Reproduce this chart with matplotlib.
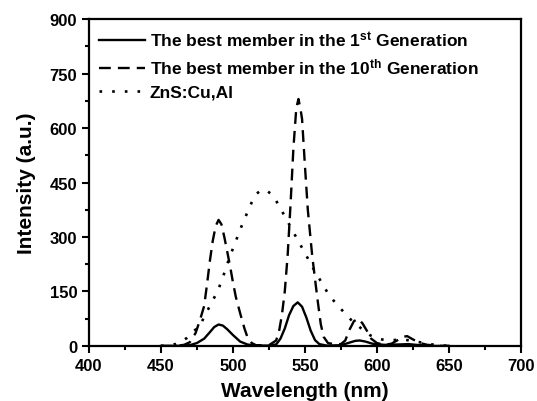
import matplotlib.pyplot as plt
from matplotlib.ticker import MultipleLocator

plt.rcParams['font.family'] = ['Liberation Sans', 'DejaVu Sans']
plt.rcParams['font.weight'] = 'bold'
plt.rcParams['mathtext.fontset'] = 'custom'
plt.rcParams['mathtext.bf'] = 'Liberation Sans:bold'
plt.rcParams['mathtext.rm'] = 'Liberation Sans:bold'
plt.rcParams['mathtext.default'] = 'bf'

# best member, 1st generation
wl_1st = [450, 460, 470, 475, 480, 484, 487, 490, 493, 496, 500, 505, 510, 515,
          525, 530, 533, 536, 539, 542, 545, 548, 551, 554, 557, 560, 565, 575,
          580, 585, 588, 592, 597, 605, 615, 622, 630, 640, 650]
int_1st = [0, 0, 2, 8, 20, 38, 52, 59, 56, 46, 30, 12, 4, 1,
           1, 4, 20, 48, 85, 110, 120, 108, 78, 42, 16, 5, 1, 2,
           8, 14, 15, 12, 6, 3, 4, 5, 2, 0, 0]

# best member, 10th generation
wl_10th = [450, 460, 466, 470, 474, 477, 480, 482, 484, 486, 488, 490, 492, 494,
           496, 498, 500, 502, 505, 508, 510, 513, 516, 525, 530, 532, 534, 536,
           538, 540, 542, 544, 545.5, 547, 548, 550, 552, 555, 557, 559, 561, 563,
           566, 570, 575, 578, 581, 584, 587, 590, 593, 596, 600, 605, 610, 614,
           618, 621, 625, 630, 635, 645, 650]
int_10th = [0, 0, 3, 10, 35, 70, 110, 170, 235, 290, 330, 347, 335, 300,
            260, 220, 175, 135, 90, 48, 25, 8, 2, 2, 15, 40, 85, 150,
            250, 390, 545, 655, 680, 650, 625, 496, 375, 250, 184, 120, 60, 25,
            8, 5, 5, 15, 45, 68, 75, 62, 42, 20, 8, 3, 6, 15,
            25, 27, 18, 8, 3, 0, 0]

# ZnS:Cu,Al reference
wl_zns = [450, 455, 460, 465, 468, 472, 477, 481, 486, 490, 493, 496, 499, 502.5,
          506, 509.5, 513, 516, 520, 524, 528, 532.5, 537, 542, 546.5, 552, 556,
          561.5, 567, 574, 582, 590, 595, 600, 608, 618, 630, 640, 650]
int_zns = [0, 2, 5, 14, 22, 38, 55, 88, 125, 157, 189, 225, 258, 294,
           330, 363, 395, 418, 430, 426, 414, 382, 350, 313, 281, 241, 212,
           175, 138, 106, 72, 45, 30, 20, 15, 18, 10, 3, 0]

fig = plt.figure(figsize=(5.37, 4.02), dpi=100)
ax = fig.add_axes([0.1657, 0.137, 0.8043, 0.813])

ax.plot(wl_1st, int_1st, color='black', lw=1.7, linestyle='-',
        label=r'The best member in the 1$^{st}$ Generation')
ax.plot(wl_10th, int_10th, color='black', lw=1.7, linestyle=(0, (5, 3)),
        label=r'The best member in the 10$^{th}$ Generation')
ax.plot(wl_zns, int_zns, color='black', lw=1.9, linestyle=(0, (1, 3.8)),
        label='ZnS:Cu,Al')

ax.set_xlim(400, 700)
ax.set_ylim(0, 900)
ax.xaxis.set_major_locator(MultipleLocator(50))
ax.xaxis.set_minor_locator(MultipleLocator(25))
ax.yaxis.set_major_locator(MultipleLocator(150))
ax.yaxis.set_minor_locator(MultipleLocator(75))
ax.tick_params(which='both', direction='out', width=1.5, labelsize=12, top=False, right=False)
ax.tick_params(which='major', length=5)
ax.tick_params(which='minor', length=3)
for s in ax.spines.values():
    s.set_linewidth(1.6)

ax.set_xlabel('Wavelength (nm)', fontsize=15, fontweight='bold', labelpad=6)
ax.set_ylabel('Intensity (a.u.)', fontsize=15, fontweight='bold', labelpad=10)

ax.legend(loc='upper left', frameon=False, fontsize=12.5, handlelength=2.6,
          handletextpad=0.3, labelspacing=0.45, borderpad=0.2, borderaxespad=0.4,
          bbox_to_anchor=(0.0, 1.0))

fig.savefig('out.png', dpi=100)
